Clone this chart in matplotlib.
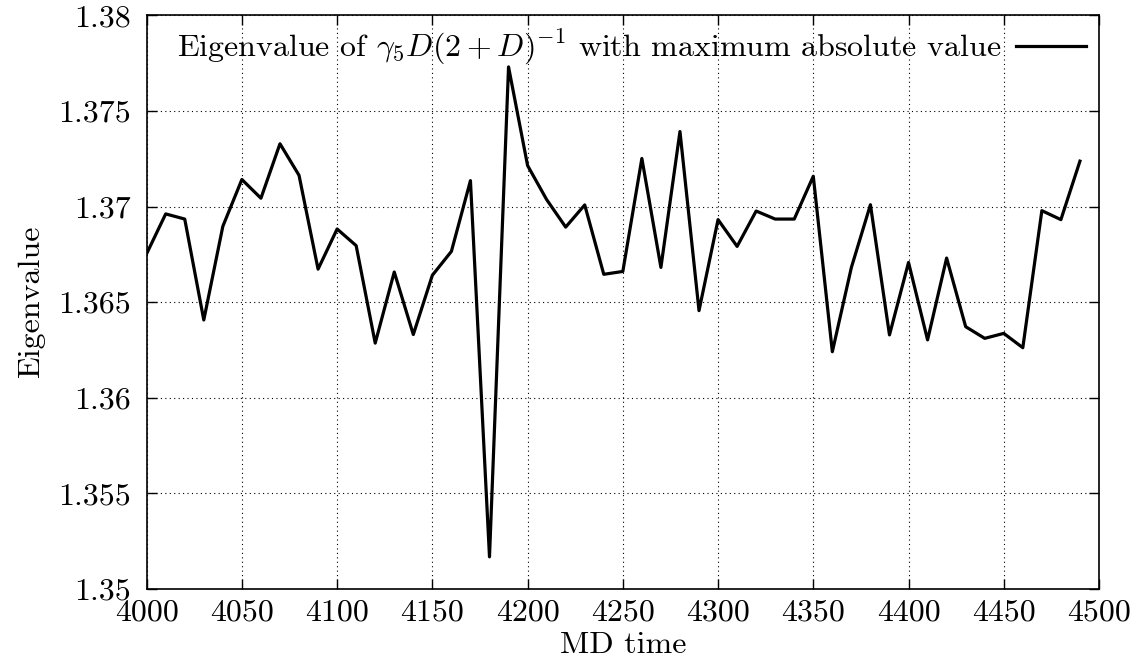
import matplotlib
matplotlib.use('Agg')
import matplotlib.pyplot as plt
from matplotlib.ticker import FuncFormatter

# MD time steps and largest-|eigenvalue| readings
md_time = list(range(4000, 4500, 10))
eigenvalue = [
    1.36754, 1.36962, 1.36935, 1.36407, 1.36897, 1.37142, 1.37044, 1.37329, 1.37164, 1.36673,
    1.36883, 1.36796, 1.36286, 1.36658, 1.36331, 1.36641, 1.36766, 1.37136, 1.35168, 1.37731,
    1.37215, 1.37037, 1.36893, 1.37009, 1.36646, 1.36661, 1.37252, 1.36682, 1.37393, 1.36456,
    1.36932, 1.36792, 1.36977, 1.36935, 1.36935, 1.37159, 1.36241, 1.36682, 1.37010, 1.36329,
    1.36708, 1.36303, 1.36731, 1.36372, 1.36311, 1.36337, 1.36262, 1.36979, 1.36932, 1.37238,
]
x_ticks = [4000, 4050, 4100, 4150, 4200, 4250, 4300, 4350, 4400, 4450, 4500]
y_ticks = [1.35, 1.355, 1.36, 1.365, 1.37, 1.375, 1.38]

plt.rcParams['font.family'] = 'serif'
plt.rcParams['font.serif'] = ['cmr10']
plt.rcParams['mathtext.fontset'] = 'cm'
plt.rcParams['axes.unicode_minus'] = False
plt.rcParams['font.size'] = 23

fig = plt.figure(figsize=(11.43, 6.64), dpi=100)
ax = fig.add_axes([0.1283, 0.1130, 0.8332, 0.8637])

ax.plot(md_time, eigenvalue, color='black', linewidth=2.3,
        label=r'Eigenvalue of $\gamma_5 D(2+D)^{-1}$ with maximum absolute value')

ax.set_xlim(4000, 4500)
ax.set_ylim(1.35, 1.38)
ax.set_xticks(x_ticks)
ax.set_yticks(y_ticks)
ax.yaxis.set_major_formatter(FuncFormatter(lambda v, p: '%g' % round(v, 4)))
ax.tick_params(direction='in', length=7, width=1, top=True, right=True)
ax.tick_params(axis='x', pad=7)
ax.tick_params(axis='y', pad=11)
ax.grid(True, color='black', linestyle=(0, (1, 3)), linewidth=0.8)
for s in ax.spines.values():
    s.set_linewidth(1.2)

ax.set_xlabel('MD time', labelpad=4)
ax.set_ylabel('Eigenvalue', labelpad=10)

leg = ax.legend(loc='upper right', frameon=False, markerfirst=False,
                handlelength=2.2, borderaxespad=0.15, borderpad=0.25, handletextpad=0.45)

fig.savefig('out.png', dpi=100)
